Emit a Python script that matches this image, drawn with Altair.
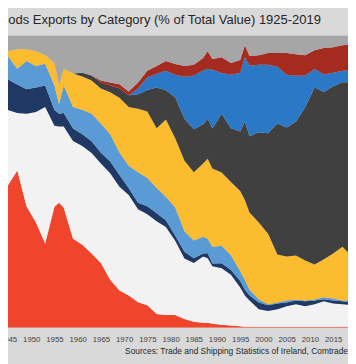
import altair as alt
import pandas as pd

title_text = "Goods Exports by Category (% of Total Value) 1925-2019"
source_text = "Sources: Trade and Shipping Statistics of Ireland, Comtrade"

years = [1945, 1947, 1949, 1951, 1953, 1955, 1956, 1957, 1959, 1961, 1963, 1965,
         1967, 1969, 1971, 1973, 1975, 1977, 1979, 1981, 1983, 1985, 1987, 1988,
         1989, 1991, 1993, 1995, 1996, 1997, 1999, 2001, 2003, 2005, 2007, 2009,
         2011, 2013, 2015, 2017, 2019]

tick_years = [1945, 1950, 1955, 1960, 1965, 1970, 1975, 1980, 1985, 1990,
              1995, 2000, 2005, 2010, 2015]

# stack order: bottom -> top
categories = ["Live animals", "Food & beverages", "Raw materials", "Manufactured goods",
              "Machinery & transport", "Chemicals & pharmaceuticals",
              "Misc. manufactured articles", "Other", "Unclassified"]
colors = ["#f0452d", "#f2f2f2", "#1f3864", "#5b9bd5", "#fbbc2f", "#404040",
          "#2a78c6", "#a52a1f", "#a6a6a6"]

live_animals = [48.8, 53.8, 41.5, 36.1, 28.8, 41.5, 42.8, 41.1, 30.4, 28.4, 25.4, 22.1,
                16.4, 12.7, 11.0, 8.7, 7.7, 4.7, 4.3, 4.3, 3.0, 2.0, 1.7, 1.7,
                1.3, 1.0, 0.7, 0.5, 0.3, 0.3, 0.3, 0.3, 0.3, 0.3, 0.3, 0.3,
                0.3, 0.3, 0.3, 0.3, 0.3]
food = [25.8, 19.7, 31.8, 37.8, 46.8, 27.8, 26.1, 27.8, 33.4, 33.8, 34.4, 34.1,
        36.5, 35.5, 34.4, 31.8, 31.1, 31.8, 30.1, 25.4, 20.7, 20.1, 22.7, 22.1,
        19.7, 19.4, 17.4, 13.2, 10.7, 9.0, 6.0, 5.4, 6.0, 7.0, 7.7, 7.0,
        7.7, 8.7, 8.0, 7.7, 7.4]
raw_materials = [10.4, 9.7, 8.4, 8.4, 7.4, 5.4, 4.3, 4.7, 4.3, 4.0, 4.0, 3.7,
                 4.0, 4.0, 2.3, 2.3, 2.7, 2.7, 2.3, 1.7, 2.3, 1.7, 1.0, 1.7,
                 1.0, 1.7, 1.7, 2.3, 2.0, 1.7, 2.3, 2.0, 2.0, 1.3, 1.3, 1.7,
                 1.3, 0.7, 1.0, 1.0, 1.0]
manufactured = [8.0, 5.4, 9.7, 7.4, 7.4, 8.4, 3.3, 9.4, 7.4, 8.4, 9.4, 10.0,
                9.4, 7.7, 7.7, 10.4, 9.7, 8.7, 8.0, 9.7, 7.0, 6.0, 5.7, 5.0,
                5.7, 6.0, 5.0, 3.3, 3.3, 2.0, 1.0, 0.3, 0.3, 0.7, 0.3, 0.3,
                0.3, 0.7, 0.7, 0.3, 0.7]
machinery = [1.7, 6.7, 4.0, 5.0, 3.0, 7.7, 6.4, 5.7, 11.4, 11.4, 11.4, 12.0,
             14.4, 18.7, 20.1, 21.7, 22.7, 20.4, 26.4, 23.7, 24.1, 23.4, 25.1, 27.4,
             26.8, 25.1, 25.1, 27.4, 27.4, 26.4, 26.4, 24.1, 16.4, 15.1, 15.1, 13.7,
             12.0, 13.0, 15.4, 18.4, 15.1]
chemicals = [0.0, 0.0, 0.0, 0.0, 0.0, 0.0, 0.0, 0.0, 0.0, 1.3, 1.7, 2.0,
             2.3, 3.3, 4.0, 5.0, 7.4, 14.0, 10.0, 14.0, 14.4, 14.7, 13.4, 13.7,
             13.7, 20.1, 18.4, 20.4, 26.8, 26.1, 30.8, 34.4, 44.8, 44.1, 45.8, 52.5,
             60.5, 57.2, 57.2, 56.2, 59.5]
misc_manuf = [0.0, 0.0, 0.0, 0.0, 0.0, 0.0, 0.0, 0.0, 0.0, 0.0, 0.0, 0.0,
              0.0, 0.0, 0.0, 2.0, 4.3, 4.7, 6.7, 7.7, 14.4, 18.4, 18.4, 17.1,
              20.1, 14.0, 18.4, 20.1, 22.1, 24.1, 23.1, 23.4, 19.4, 18.1, 15.7, 10.7,
              6.4, 6.0, 4.7, 4.0, 4.0]
other = [0.0, 0.0, 0.0, 0.0, 0.0, 0.0, 0.0, 0.0, 0.0, 0.0, 0.0, 0.7,
         1.0, 1.3, 1.3, 2.0, 2.3, 2.7, 3.3, 3.7, 3.7, 3.7, 4.3, 6.0,
         3.7, 5.4, 4.0, 4.3, 4.0, 3.3, 3.3, 4.0, 4.7, 7.4, 7.4, 7.0,
         6.4, 9.0, 8.7, 8.7, 9.0]
unclassified = [5.4, 4.7, 4.7, 5.4, 6.7, 9.4, 17.1, 11.4, 13.0, 12.7, 13.7, 15.4,
                16.1, 16.7, 19.1, 16.1, 12.0, 10.4, 8.7, 9.7, 10.4, 10.0, 7.7, 5.4,
                8.0, 7.4, 9.4, 8.4, 3.3, 7.0, 6.7, 6.0, 6.0, 6.0, 6.4, 6.7,
                5.0, 4.3, 4.0, 3.3, 3.0]

series = [live_animals, food, raw_materials, manufactured, machinery, chemicals,
          misc_manuf, other, unclassified]

rows = []
for i, (cat, vals) in enumerate(zip(categories, series)):
    for yr, v in zip(years, vals):
        rows.append({"year": yr, "category": cat, "share": v, "order": i})
df = pd.DataFrame(rows)

area = alt.Chart(df).mark_area(clip=True, interpolate="linear").encode(
    x=alt.X("year:Q",
            scale=alt.Scale(domain=[1945, 2018.2], nice=False, zero=False),
            axis=alt.Axis(values=tick_years, format="d", title=None, domain=False,
                          ticks=False, tickSize=0, grid=False, labelFontSize=8,
                          labelFont="Liberation Sans", labelColor="#404040",
                          labelPadding=8.5, labelFlush=False, labelOverlap=False)),
    y=alt.Y("share:Q", stack="normalize",
            scale=alt.Scale(domain=[0, 1], nice=False), axis=None),
    color=alt.Color("category:N", scale=alt.Scale(domain=categories, range=colors),
                    legend=None),
    order=alt.Order("order:Q", sort="ascending"),
)

title = alt.Chart(pd.DataFrame({"t": [title_text]})).mark_text(
    align="left", baseline="alphabetic", font="Liberation Sans", fontSize=13.3,
    color="#262626"
).encode(x=alt.value(-17.5), y=alt.value(-12), text="t:N")

source = alt.Chart(pd.DataFrame({"t": [source_text]})).mark_text(
    align="right", baseline="alphabetic", font="Liberation Sans", fontSize=8.6,
    color="#262626"
).encode(x=alt.value(348), y=alt.value(325.5), text="t:N")

chart = alt.layer(area, title, source).properties(
    width=348, height=299,
    padding={"left": 0, "top": 24, "right": 0, "bottom": 33},
    autosize=alt.AutoSizeParams(type="none"),
).configure(background="#d9d9d9").configure_view(stroke=None)

chart.save("out.html", embed_options={"renderer": "svg", "actions": False})
